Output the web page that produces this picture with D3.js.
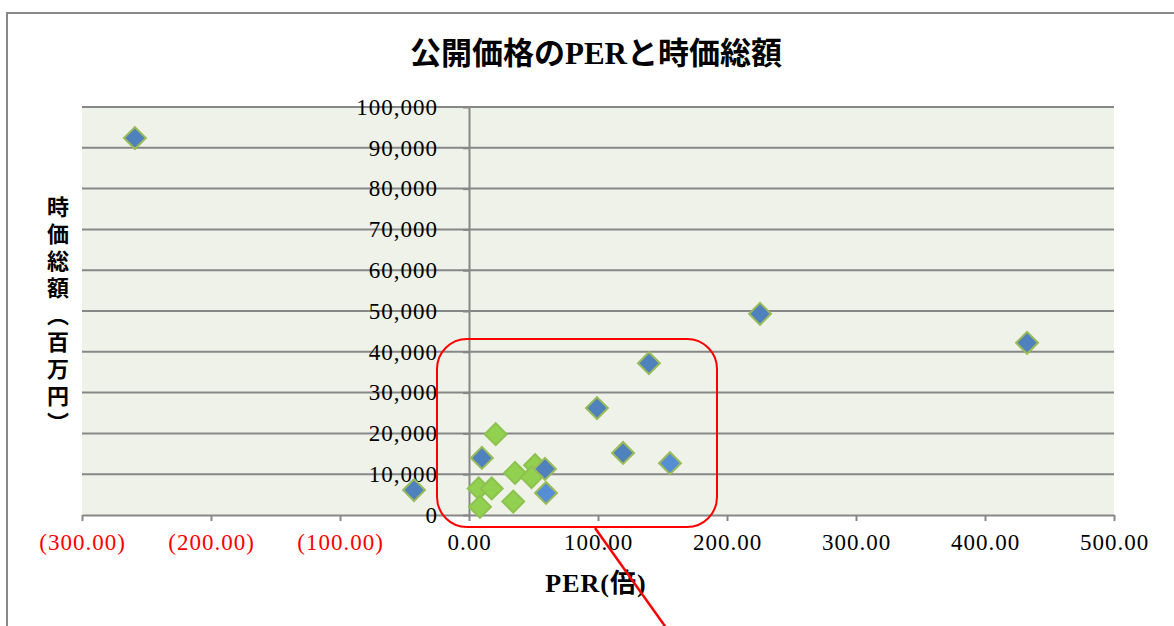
<!DOCTYPE html>
<html>
<head>
<meta charset="utf-8">
<script src="https://cdnjs.cloudflare.com/ajax/libs/d3/7.8.5/d3.min.js"></script>
<style>
  body { margin: 0; background: #fff; }
  svg { display: block; }
</style>
</head>
<body>
<div id="chart"></div>
<script>
// data
var bluePer = [-259, 225.6, 432.6, 139.5, 99.2, 119.4, 10.0, 58.9, -42.6];
var blueCap = [92400, 49300, 42200, 37200, 26200, 15200, 14000, 11300, 6100];
var lightPer = [155.8, 59.7];
var lightCap = [12700, 5400];
var greenPer = [20.7, 35.7, 51.2, 48.5, 7.5, 17.6, 8.5, 34.3];
var greenCap = [19800, 10300, 12200, 9300, 6500, 6500, 2000, 3300];
var xTicks = [-300, -200, -100, 0, 100, 200, 300, 400, 500];
var yTicks = [0, 10000, 20000, 30000, 40000, 50000, 60000, 70000, 80000, 90000, 100000];

var W = 1174, H = 626;
var plot = {left: 82, right: 1114, top: 107, bottom: 515};

var svg = d3.select("#chart").append("svg")
  .attr("width", W).attr("height", H);

// chart frame
svg.append("path")
  .attr("d", "M7," + (H + 5) + "V13H" + (W + 5))
  .attr("fill", "none").attr("stroke", "#888").attr("stroke-width", 2);

var x = d3.scaleLinear().domain([-300, 500]).range([plot.left, plot.right]);
var y = d3.scaleLinear().domain([0, 100000]).range([plot.bottom, plot.top]);

// plot background
svg.append("rect")
  .attr("x", plot.left).attr("y", plot.top)
  .attr("width", plot.right - plot.left).attr("height", plot.bottom - plot.top)
  .attr("fill", "#EFF2E9");

// gridlines
svg.append("g").selectAll("line")
  .data(yTicks.slice(1))
  .join("line")
    .attr("x1", plot.left).attr("x2", plot.right)
    .attr("y1", function(d) { return y(d); })
    .attr("y2", function(d) { return y(d); })
    .attr("stroke", "#878787").attr("stroke-width", 2);

// x axis
var fmtX = function(d) {
  var s = d3.format(".2f")(Math.abs(d));
  return d < 0 ? "(" + s + ")" : s;
};
var xAxis = d3.axisBottom(x).tickValues(xTicks).tickFormat(fmtX)
  .tickSize(6).tickPadding(13).tickSizeOuter(0);
var gx = svg.append("g")
  .attr("transform", "translate(0," + plot.bottom + ")")
  .call(xAxis);
gx.select(".domain").attr("stroke", "#878787").attr("stroke-width", 2);
gx.selectAll(".tick line").attr("stroke", "#878787").attr("stroke-width", 2);
gx.selectAll(".tick text")
  .attr("font-family", "Liberation Serif, serif")
  .attr("font-size", 23)
  .attr("letter-spacing", 1)
  .attr("fill", function(d) { return d < 0 ? "#FF0000" : "#000"; });

// y axis at x = 0
var yAxis = d3.axisLeft(y).tickValues(yTicks).tickFormat(d3.format(","))
  .tickSize(6).tickPadding(25).tickSizeOuter(0);
var gy = svg.append("g")
  .attr("transform", "translate(" + x(0) + ",0)")
  .call(yAxis);
gy.select(".domain").attr("stroke", "#878787").attr("stroke-width", 2);
gy.selectAll(".tick line").attr("stroke", "#878787").attr("stroke-width", 2);
gy.selectAll(".tick text")
  .attr("font-family", "Liberation Serif, serif")
  .attr("font-size", 23)
  .attr("letter-spacing", 1)
  .attr("fill", "#000");

// markers
var diamond = d3.symbol().type(d3.symbolSquare).size(240);
function drawSeries(px, py, fill, stroke) {
  var pts = px.map(function(v, i) { return {x: v, y: py[i]}; });
  svg.append("g").selectAll("path")
    .data(pts)
    .join("path")
      .attr("d", diamond)
      .attr("transform", function(d) {
        return "translate(" + x(d.x) + "," + y(d.y) + ") rotate(45)";
      })
      .attr("fill", fill)
      .attr("stroke", stroke)
      .attr("stroke-width", 2);
}
drawSeries(greenPer, greenCap, "#92D050", "#8DC24F");
drawSeries(bluePer, blueCap, "#4F81BD", "#9BBB59");
drawSeries(lightPer, lightCap, "#558ED5", "#9BBB59");

// title
svg.append("text")
  .attr("x", 596).attr("y", 64)
  .attr("text-anchor", "middle")
  .attr("font-family", "Liberation Serif, Noto Sans CJK JP, serif")
  .attr("font-weight", "bold")
  .attr("font-size", 31)
  .text("公開価格のPERと時価総額");

// axis titles
svg.append("text")
  .attr("x", 596).attr("y", 592)
  .attr("text-anchor", "middle")
  .attr("font-family", "Liberation Serif, Noto Sans CJK JP, serif")
  .attr("font-weight", "bold")
  .attr("font-size", 26)
  .attr("letter-spacing", 1)
  .text("PER(倍)");

svg.append("text")
  .attr("x", 58).attr("y", 196)
  .attr("writing-mode", "vertical-rl")
  .attr("font-family", "Noto Sans CJK JP, sans-serif")
  .attr("font-weight", "bold")
  .attr("font-size", 22)
  .attr("letter-spacing", 5)
  .text("時価総額（百万円）");

// red annotation
svg.append("rect")
  .attr("x", 437).attr("y", 339)
  .attr("width", 280).attr("height", 188)
  .attr("rx", 30).attr("ry", 30)
  .attr("fill", "none").attr("stroke", "#FF0000").attr("stroke-width", 2);
svg.append("line")
  .attr("x1", 595).attr("y1", 528).attr("x2", 672).attr("y2", 636)
  .attr("stroke", "#FF0000").attr("stroke-width", 2.5);
</script>
</body>
</html>
